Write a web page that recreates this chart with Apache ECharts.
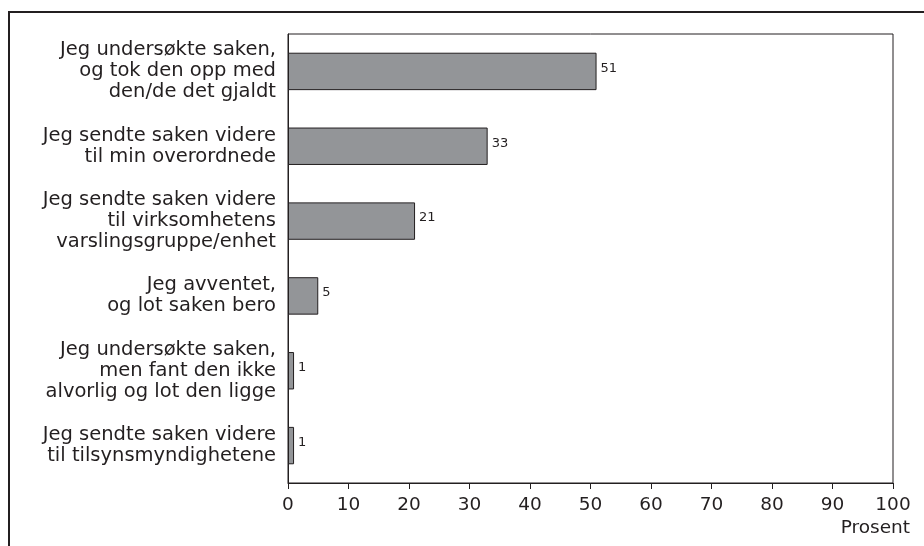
<!DOCTYPE html>
<html>
<head>
<meta charset="utf-8">
<script src="https://cdn.jsdelivr.net/npm/echarts@6/dist/echarts.min.js"></script>
<style>
  html, body { margin: 0; padding: 0; background: #fff; }
  #chart { width: 924px; height: 546px; }
</style>
</head>
<body>
<div id="chart"></div>
<script>
  const categories = [
    "Jeg undersøkte saken,\nog tok den opp med\nden/de det gjaldt",
    "Jeg sendte saken videre\ntil min overordnede",
    "Jeg sendte saken videre\ntil virksomhetens\nvarslingsgruppe/enhet",
    "Jeg avventet,\nog lot saken bero",
    "Jeg undersøkte saken,\nmen fant den ikke\nalvorlig og lot den ligge",
    "Jeg sendte saken videre\ntil tilsynsmyndighetene",
  ]
  const values = [51, 33, 21, 5, 1, 1]
  const xTicks = [0, 10, 20, 30, 40, 50, 60, 70, 80, 90, 100]

  const ink = "#231f20"
  const font = "DejaVu Sans"

  const myChart = echarts.init(document.getElementById("chart"))
  const option = {
    animation: false,
    grid: {
      left: 288,
      right: 31,
      top: 34,
      bottom: 63,
      show: true,
      borderColor: ink,
      borderWidth: 1,
      backgroundColor: "transparent",
    },
    xAxis: {
      type: "value",
      min: xTicks[0],
      max: xTicks[xTicks.length - 1],
      interval: 10,
      splitLine: { show: false },
      axisLine: { show: true, lineStyle: { color: ink, width: 1 } },
      axisTick: { show: true, length: 6, lineStyle: { color: ink } },
      axisLabel: { color: ink, fontSize: 18.5, fontFamily: font, margin: 13 },
    },
    yAxis: {
      type: "category",
      data: categories,
      inverse: true,
      axisLine: { show: true, lineStyle: { color: ink } },
      axisTick: { show: false },
      axisLabel: {
        color: ink,
        fontSize: 19.5,
        fontFamily: font,
        lineHeight: 21,
        align: "right",
        margin: 12,
        padding: [3, 0, 0, 0],
      },
    },
    series: [
      {
        type: "bar",
        data: values,
        barWidth: "50%",
        itemStyle: { color: "#939598", borderColor: ink, borderWidth: 1 },
        label: {
          show: true,
          position: "right",
          distance: 4,
          color: ink,
          fontSize: 13,
          fontFamily: font,
          offset: [0, -3],
        },
      },
    ],
    graphic: [
      {
        type: "polyline",
        shape: { points: [[9, 560], [9, 12], [940, 12]] },
        style: { stroke: ink, lineWidth: 2, fill: null },
      },
      {
        type: "text",
        right: 14,
        top: 519,
        style: { text: "Prosent", fill: ink, fontSize: 18.5, fontFamily: font },
      },
    ],
  }
  myChart.setOption(option)
</script>
</body>
</html>
